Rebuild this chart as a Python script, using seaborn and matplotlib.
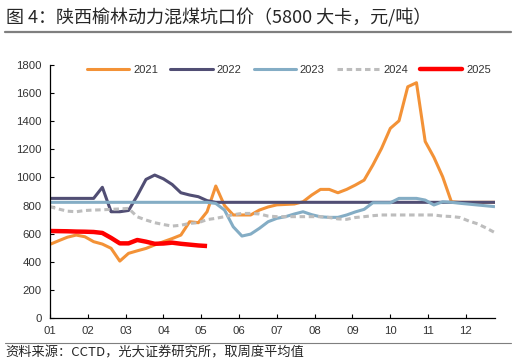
import numpy as np
import pandas as pd
import matplotlib
matplotlib.use("Agg")
import matplotlib.pyplot as plt
import seaborn as sns
from matplotlib.lines import Line2D

sns.set_style("ticks")
plt.rcParams['font.family'] = ['Liberation Sans', 'Noto Sans CJK SC', 'DejaVu Sans']

# weekly averages, week index 0..51
weeks = list(range(52))
years = ["2021", "2022", "2023", "2024", "2025"]

p2021 = [524, 550, 575, 590, 578, 543, 526, 496, 405, 460, 478, 495, 520, 543, 565, 590,
         685, 678, 756, 939, 800, 733, 733, 733, 768, 790, 805, 808, 811, 827, 875, 915,
         915, 891, 915, 946, 981, 1088, 1207, 1349, 1403, 1645, 1674, 1256, 1143, 1005,
         827, 823, 823, 823, 823, 823]
p2022 = [851, 851, 851, 851, 851, 851, 930, 756, 756, 765, 870, 986, 1017, 990, 950, 891,
         875, 863, 835] + [823] * 33
p2023 = [823] * 19 + [815, 768, 649, 583, 597, 638, 685, 709, 721, 740, 756, 735, 720,
                      716, 716, 733, 755, 773, 820, 820, 820, 851, 851, 851, 839, 804,
                      827, 823, 816, 810, 804, 798, 792]
p2024 = [792, 775, 760, 756, 765, 768, 770, 773, 776, 780, 720, 697, 678, 665, 654, 660,
         673, 678, 700, 709, 721, 735, 744, 744, 740, 725, 721, 721, 721, 721, 721, 721,
         715, 705, 702, 715, 721, 728, 733, 733, 733, 733, 733, 733, 733, 725, 722, 715,
         690, 670, 640, 607]
p2025 = [619, 618, 617, 615, 614, 612, 605, 570, 531, 531, 555, 543, 528, 530, 536, 528,
         522, 516, 512]

month_labels = ["01", "02", "03", "04", "05", "06", "07", "08", "09", "10", "11", "12"]
y_ticks = [0, 200, 400, 600, 800, 1000, 1200, 1400, 1600, 1800]

series = [p2021, p2022, p2023, p2024, p2025]
rows = []
for yr, vals in zip(years, series):
    for w, v in zip(weeks, vals):
        rows.append({"week": w, "year": yr, "price": v})
df = pd.DataFrame(rows)

colors = {"2021": "#F39237", "2022": "#514E74", "2023": "#84ADC5",
          "2024": "#BDBDBD", "2025": "#FF0000"}
widths = {"2021": 2.2, "2022": 2.2, "2023": 2.2, "2024": 2.2, "2025": 3.2}
styles = {"2021": "-", "2022": "-", "2023": "-", "2024": (0, (1.8, 1.2)), "2025": "-"}

fig = plt.figure(figsize=(5.16, 3.64), dpi=100)
ax = fig.add_axes([50/516, 1-318/364, 445/516, 253/364])

for yr in years:
    sns.lineplot(data=df[df["year"] == yr], x="week", y="price", ax=ax,
                 color=colors[yr], linewidth=widths[yr], linestyle=styles[yr],
                 solid_capstyle="butt", legend=False)

ax.set_xlim(0, 51)
ax.set_ylim(0, 1800)
ax.set_xticks([i * 52 / 12 for i in range(12)])
ax.set_xticklabels(month_labels)
ax.set_yticks(y_ticks)
ax.set_xlabel("")
ax.set_ylabel("")
ax.tick_params(direction="in", length=3, width=0.8, labelsize=8.2, colors="black",
               labelcolor="#333333", pad=6)
sns.despine(ax=ax)
for s in ["left", "bottom"]:
    ax.spines[s].set_linewidth(0.9)
    ax.spines[s].set_color("black")

handles = [Line2D([], [], color=colors[yr], linewidth=widths[yr], linestyle=styles[yr])
           for yr in years]
fig.legend(handles, years, loc="center", bbox_to_anchor=(289/516, 1-70/364), ncol=5,
           frameon=False, fontsize=8, handlelength=3.8, handletextpad=0.35,
           columnspacing=1.1, labelcolor="#333333")

fig.text(6/516, 1-18/364, "图 4：陕西榆林动力混煤坑口价（5800 大卡，元/吨）",
         fontsize=13, va="center", ha="left", weight="medium",
         family=["Noto Sans CJK SC", "DejaVu Sans"])
fig.add_artist(Line2D([5/516, 511/516], [1-32/364, 1-32/364], color="#7F7F7F", linewidth=1.6))
fig.add_artist(Line2D([5/516, 511/516], [1-343/364, 1-343/364], color="#7F7F7F", linewidth=0.8))
fig.text(5/516, 1-353/364, "资料来源：CCTD，光大证券研究所，取周度平均值",
         fontsize=9.5, va="center", ha="left", family=["Noto Sans CJK SC", "DejaVu Sans"])

fig.savefig("out.png", dpi=100)
